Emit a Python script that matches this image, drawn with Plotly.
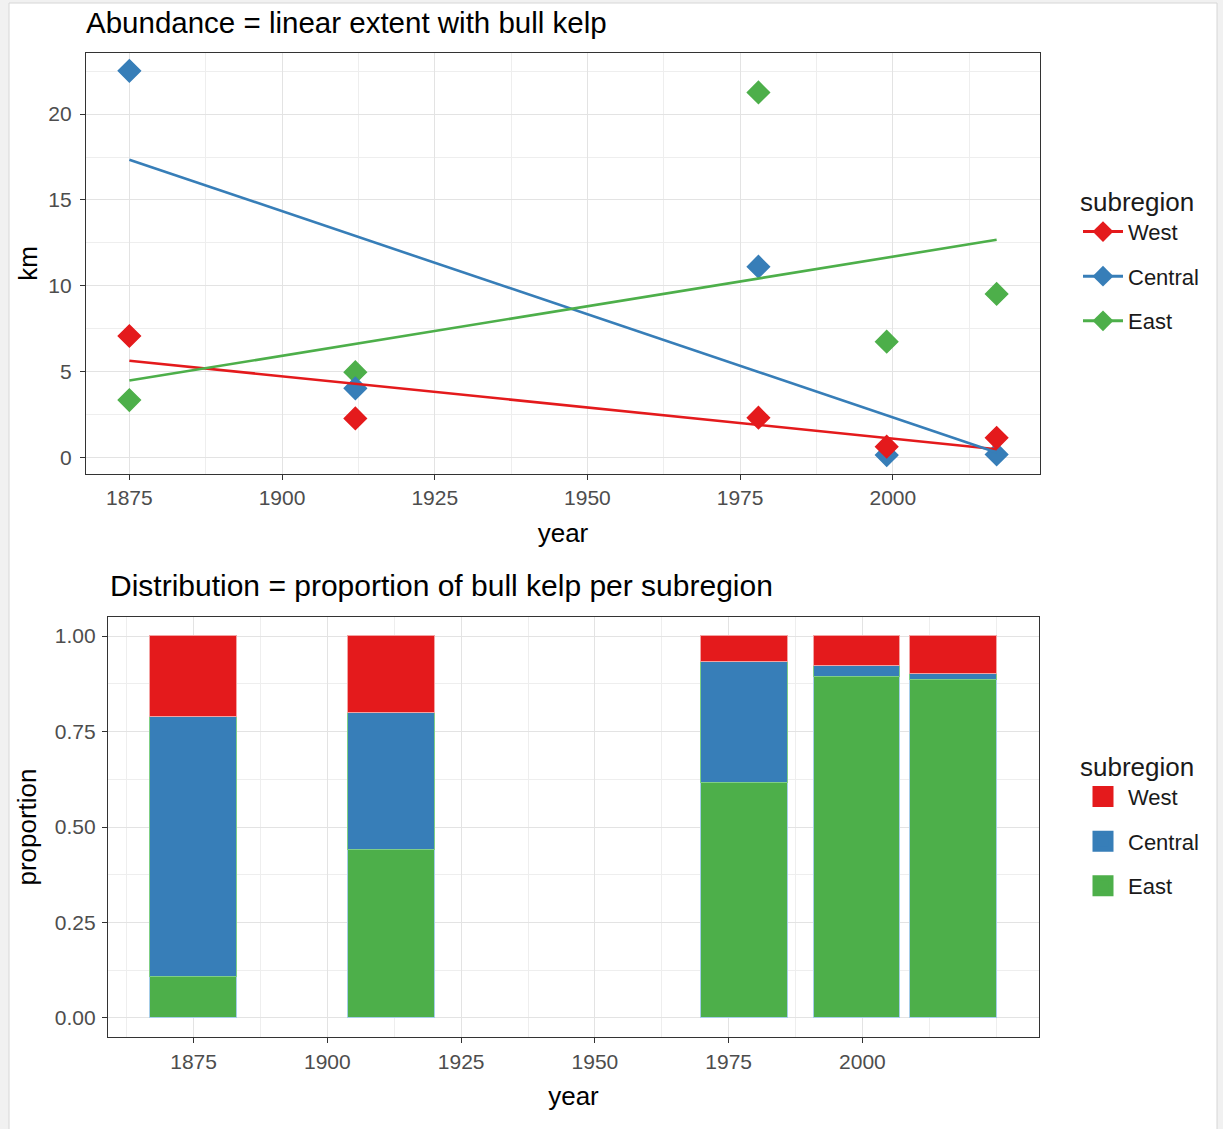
import numpy as np
import plotly.graph_objects as go

# ---------------- data ----------------
years = [1875, 1912, 1978, 1999, 2017]
subregions = ["West", "Central", "East"]

km_west = [7.07, 2.27, 2.31, 0.62, 1.14]
km_central = [22.52, 4.02, 11.11, 0.13, 0.17]
km_east = [3.34, 4.96, 21.26, 6.74, 9.52]

prop_west = [0.212, 0.201, 0.069, 0.078, 0.100]
prop_central = [0.681, 0.360, 0.315, 0.030, 0.016]
prop_east = [0.107, 0.439, 0.616, 0.892, 0.884]

x_ticks = [1875, 1900, 1925, 1950, 1975, 2000]
km_ticks = [0, 5, 10, 15, 20]
prop_ticks = [0.0, 0.25, 0.5, 0.75, 1.0]
prop_labels = ["0.00", "0.25", "0.50", "0.75", "1.00"]

colors = {"West": "#E41A1C", "Central": "#377EB8", "East": "#4DAF4A"}
edge = {"West": "#f3a3a3", "Central": "#7fcf86", "East": "#a6cde8"}
km = {"West": km_west, "Central": km_central, "East": km_east}
prop = {"West": prop_west, "Central": prop_central, "East": prop_east}

W, H = 1223, 1129
def px(v):
    return v / W
def py(v):
    return 1 - v / H

FONT = "Liberation Sans, Arial, sans-serif"

fig = go.Figure()

# ---- legend entries (top) ----
for s in subregions:
    fig.add_trace(go.Scatter(
        x=[None], y=[None], mode="lines+markers", name=s,
        legendgroup="top_" + s, legend="legend",
        marker=dict(symbol="diamond", size=16, color=colors[s]),
        line=dict(color=colors[s], width=3),
        xaxis="x", yaxis="y"))

# ---- points ----
for s in ["East", "Central", "West"]:
    fig.add_trace(go.Scatter(
        x=years, y=km[s], mode="markers", name=s, showlegend=False,
        legendgroup="top_" + s,
        marker=dict(symbol="diamond", size=17, color=colors[s],
                    line=dict(width=1.5, color=colors[s])),
        xaxis="x", yaxis="y"))

# ---- linear fits (geom_smooth method = lm) ----
for s in ["West", "Central", "East"]:
    slope, icpt = np.polyfit(years, km[s], 1)
    xs = [min(years), max(years)]
    fig.add_trace(go.Scatter(
        x=xs, y=[icpt + slope * v for v in xs], mode="lines", name=s,
        showlegend=False, legendgroup="top_" + s,
        line=dict(color=colors[s], width=2.6),
        xaxis="x", yaxis="y"))

# ---- stacked bars (East bottom, West top) ----
for s in ["East", "Central", "West"]:
    fig.add_trace(go.Bar(
        x=years, y=prop[s], name=s, width=16.2, showlegend=False,
        legendgroup="bot_" + s,
        marker=dict(color=colors[s], line=dict(color=edge[s], width=1)),
        xaxis="x2", yaxis="y2"))

# ---- legend entries (bottom) ----
for s in subregions:
    fig.add_trace(go.Scatter(
        x=[None], y=[None], mode="markers", name=s,
        legendgroup="bot_" + s, legend="legend2",
        marker=dict(symbol="square", size=16, color=colors[s],
                    line=dict(color=colors[s], width=5)),
        xaxis="x2", yaxis="y2"))

axis_common = dict(
    showline=True, mirror=True, linecolor="#333333", linewidth=1.3,
    ticks="outside", ticklen=5, tickwidth=1.2, tickcolor="#333333",
    showgrid=True, gridcolor="#e3e3e3", gridwidth=1.2,
    zeroline=False, automargin=False,
    tickfont=dict(family=FONT, size=21, color="#4d4d4d"),
)

def ax(**kw):
    d = dict(axis_common)
    d.update(kw)
    return d

fig.update_layout(
    width=W, height=H, autosize=False,
    margin=dict(l=0, r=0, t=0, b=0),
    paper_bgcolor="#f1f1f1", plot_bgcolor="white",
    font=dict(family=FONT, color="#1a1a1a"),
    barmode="stack", bargap=0,
    showlegend=True,
    xaxis=ax(domain=[px(86), px(1040)], range=[1867.9, 2024.1], anchor="y",
             tickmode="array", tickvals=x_ticks,
             minor=dict(tickmode="array",
                        tickvals=[1887.5, 1912.5, 1937.5, 1962.5, 1987.5, 2012.5],
                        showgrid=True, gridcolor="#eeeeee", gridwidth=1, ticks=""),
             ticklabelstandoff=0,
             title=dict(text="year", font=dict(family=FONT, size=26, color="#000"), standoff=15)),
    yaxis=ax(domain=[py(474), py(53)], range=[-0.97, 23.56], anchor="x",
             tickmode="array", tickvals=km_ticks,
             minor=dict(tickmode="array", tickvals=[2.5, 7.5, 12.5, 17.5, 22.5],
                        showgrid=True, gridcolor="#eeeeee", gridwidth=1, ticks=""),
             ticklabelstandoff=4,
             title=dict(text="km", font=dict(family=FONT, size=26, color="#000"), standoff=3)),
    xaxis2=ax(domain=[px(108), px(1039)], range=[1859, 2033], anchor="y2",
              tickmode="array", tickvals=x_ticks,
              minor=dict(tickmode="array",
                         tickvals=[1862.5, 1887.5, 1912.5, 1937.5, 1962.5, 1987.5, 2012.5, 2025],
                         showgrid=True, gridcolor="#eeeeee", gridwidth=1, ticks=""),
              ticklabelstandoff=1,
              title=dict(text="year", font=dict(family=FONT, size=26, color="#000"), standoff=14)),
    yaxis2=ax(domain=[py(1037), py(617)], range=[-0.05, 1.05], anchor="x2",
              tickmode="array", tickvals=prop_ticks, ticktext=prop_labels,
              minor=dict(tickmode="array", tickvals=[0.125, 0.375, 0.625, 0.875],
                         showgrid=True, gridcolor="#eeeeee", gridwidth=1, ticks=""),
              ticklabelstandoff=2,
              title=dict(text="proportion", font=dict(family=FONT, size=26, color="#000"), standoff=10)),
    legend=dict(x=px(1078), y=py(177), xanchor="left", yanchor="top",
                title=dict(text="subregion", font=dict(family=FONT, size=26, color="#1a1a1a")),
                font=dict(family=FONT, size=22, color="#1a1a1a"), itemwidth=40,
                traceorder="grouped", tracegroupgap=13, bgcolor="rgba(0,0,0,0)"),
    legend2=dict(x=px(1078), y=py(742), xanchor="left", yanchor="top",
                 title=dict(text="subregion", font=dict(family=FONT, size=26, color="#1a1a1a")),
                 font=dict(family=FONT, size=22, color="#1a1a1a"), itemwidth=40,
                 traceorder="grouped", tracegroupgap=13, bgcolor="rgba(0,0,0,0)"),
    annotations=[
        dict(text="Abundance = linear extent with bull kelp", xref="paper", yref="paper",
             x=px(84), y=py(23), xanchor="left", yanchor="middle", showarrow=False,
             font=dict(family=FONT, size=29.5, color="#000")),
        dict(text="Distribution = proportion of bull kelp per subregion", xref="paper", yref="paper",
             x=px(108), y=py(585), xanchor="left", yanchor="middle", showarrow=False,
             font=dict(family=FONT, size=30, color="#000")),
    ],
    shapes=[
        dict(type="rect", xref="paper", yref="paper", layer="below",
             x0=px(9), x1=px(1217), y0=py(1135), y1=py(3),
             fillcolor="white", line=dict(color="#d6d6d6", width=1)),
    ],
)

fig.write_html("out.html", config={"displayModeBar": False},
               post_script="document.body.style.margin='0px';")
